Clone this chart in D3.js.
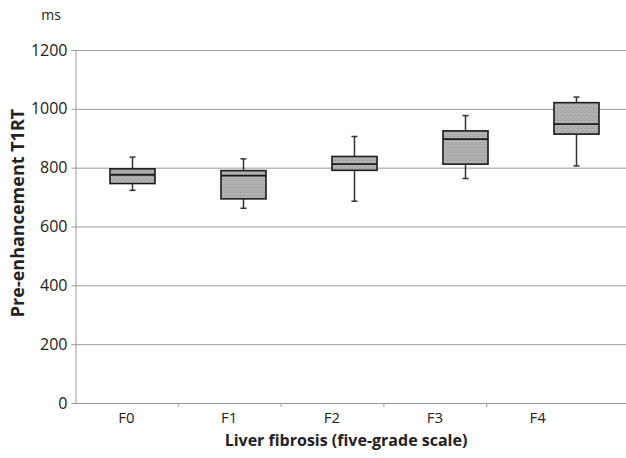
<!DOCTYPE html>
<html>
<head>
<meta charset="utf-8">
<script src="https://cdn.jsdelivr.net/npm/d3@7"></script>
<style>
  body { margin: 0; background: #fff; }
  text { font-family: "Open Sans", "Noto Sans", sans-serif; fill: #222; }
</style>
</head>
<body>
<div id="chart-area"></div>
<script>
const width = 626;
const height = 458;

// data (ms)
const grades = ['F0', 'F1', 'F2', 'F3', 'F4'];
const whiskerLow = [723, 662, 686, 763, 806];
const q1 = [746, 694, 791, 812, 914];
const median = [776, 773, 812, 897, 948];
const q3 = [796, 790, 838, 925, 1021];
const whiskerHigh = [836, 830, 906, 977, 1040];
const yTicks = [0, 200, 400, 600, 800, 1000, 1200];

const boxes = grades.map((g, i) => ({
  grade: g,
  lo: whiskerLow[i],
  q1: q1[i],
  med: median[i],
  q3: q3[i],
  hi: whiskerHigh[i],
}));

const plotLeft = 75;
const plotTop = 50;
const plotBottom = 403;

const svg = d3
  .select('#chart-area')
  .append('svg')
  .attr('width', width)
  .attr('height', height);

// speckled grey fill like the scanned figure
const defs = svg.append('defs');
const pat = defs
  .append('pattern')
  .attr('id', 'grain')
  .attr('width', 4)
  .attr('height', 4)
  .attr('patternUnits', 'userSpaceOnUse');
pat.append('rect').attr('width', 4).attr('height', 4).attr('fill', '#b0b0b0');
pat.append('rect').attr('x', 0).attr('y', 0).attr('width', 1).attr('height', 1).attr('fill', '#8a8a8a');
pat.append('rect').attr('x', 2).attr('y', 2).attr('width', 1).attr('height', 1).attr('fill', '#969696');
pat.append('rect').attr('x', 3).attr('y', 1).attr('width', 1).attr('height', 1).attr('fill', '#cacaca');

const y = d3.scaleLinear().domain([0, 1200]).range([plotBottom, plotTop]);

// category axis and the boxes sit on slightly different spacings in the original
const x = d3.scaleBand().domain(grades).range([plotLeft, 589]);
const xBox = d3.scaleBand().domain(grades).range([76, 632]);

// gridlines
svg
  .append('g')
  .selectAll('line')
  .data(yTicks)
  .join('line')
  .attr('x1', plotLeft)
  .attr('x2', width)
  .attr('y1', (d) => y(d) + 0.5)
  .attr('y2', (d) => y(d) + 0.5)
  .attr('stroke', '#9a9a9a')
  .attr('stroke-width', 1);

// y axis
const yAxis = svg
  .append('g')
  .attr('transform', `translate(${plotLeft + 0.5},0)`)
  .call(
    d3
      .axisLeft(y)
      .tickValues(yTicks)
      .tickFormat(d3.format('d'))
      .tickSize(4)
      .tickPadding(4)
  );
yAxis.select('.domain').attr('stroke', '#9a9a9a');
yAxis.selectAll('.tick line').attr('stroke', '#9a9a9a');
yAxis.selectAll('.tick text').style('font-size', '16px').attr('fill', '#222');

// x axis
const xAxis = svg
  .append('g')
  .attr('transform', `translate(0,${plotBottom + 0.5})`)
  .call(d3.axisBottom(x).tickSize(0).tickPadding(9));
xAxis.select('.domain').remove();
xAxis.selectAll('.tick text').style('font-size', '15px').attr('fill', '#222');
svg
  .append('g')
  .selectAll('line')
  .data(grades.slice(1))
  .join('line')
  .attr('x1', (d) => x(d) + 0.5)
  .attr('x2', (d) => x(d) + 0.5)
  .attr('y1', plotBottom)
  .attr('y2', plotBottom + 4)
  .attr('stroke', '#9a9a9a');

// boxes
const bw = 45;
const g = svg
  .append('g')
  .selectAll('g')
  .data(boxes)
  .join('g')
  .attr(
    'transform',
    (d) => `translate(${Math.round(xBox(d.grade) + xBox.bandwidth() / 2) + 0.5},0)`
  );

g.append('line')
  .attr('y1', (d) => y(d.hi))
  .attr('y2', (d) => y(d.lo))
  .attr('stroke', '#333')
  .attr('stroke-width', 1.5);
g.append('line')
  .attr('x1', -3)
  .attr('x2', 3)
  .attr('y1', (d) => y(d.hi))
  .attr('y2', (d) => y(d.hi))
  .attr('stroke', '#333')
  .attr('stroke-width', 1.5);
g.append('line')
  .attr('x1', -3)
  .attr('x2', 3)
  .attr('y1', (d) => y(d.lo))
  .attr('y2', (d) => y(d.lo))
  .attr('stroke', '#333')
  .attr('stroke-width', 1.5);
g.append('rect')
  .attr('x', -bw / 2)
  .attr('width', bw)
  .attr('y', (d) => y(d.q3))
  .attr('height', (d) => y(d.q1) - y(d.q3))
  .attr('fill', 'url(#grain)')
  .attr('stroke', '#1a1a1a')
  .attr('stroke-width', 1.6);
g.append('line')
  .attr('x1', -bw / 2)
  .attr('x2', bw / 2)
  .attr('y1', (d) => y(d.med))
  .attr('y2', (d) => y(d.med))
  .attr('stroke', '#1a1a1a')
  .attr('stroke-width', 1.8);

// labels
svg
  .append('text')
  .attr('x', 51)
  .attr('y', 20)
  .attr('text-anchor', 'middle')
  .style('font-size', '14px')
  .text('ms');

svg
  .append('text')
  .attr('transform', 'translate(24,213) rotate(-90)')
  .attr('text-anchor', 'middle')
  .style('font-size', '18px')
  .attr('font-weight', 'bold')
  .text('Pre-enhancement T1RT');

svg
  .append('text')
  .attr('x', 346)
  .attr('y', 446)
  .attr('text-anchor', 'middle')
  .style('font-size', '16px')
  .attr('font-weight', 'bold')
  .text('Liver fibrosis (five-grade scale)');
</script>
</body>
</html>
